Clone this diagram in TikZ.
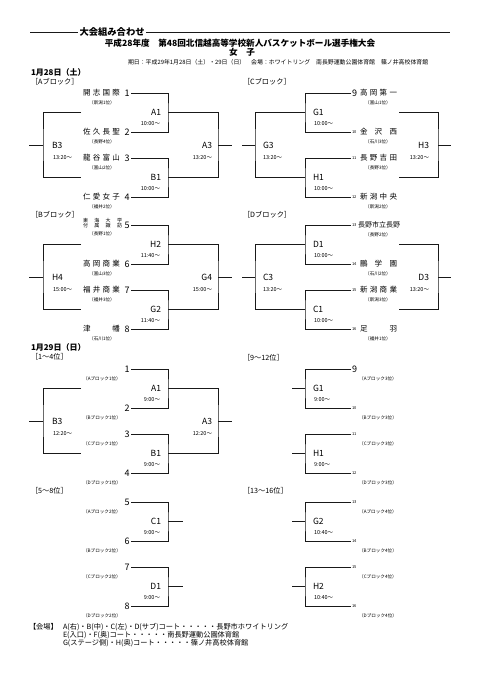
\documentclass[tikz,border=0pt]{standalone}
\usepackage{fontspec}
\setmainfont{Noto Sans CJK JP}
\usetikzlibrary{positioning}
\newcommand{\spread}[2][37pt]{\makebox[#1][s]{#2}}

\begin{document}
\begin{tikzpicture}[
  x=1pt, y=-1pt,
  wire/.style={draw=black!90, line width=0.8pt},
  lbl/.style={inner sep=0pt, outer sep=0pt},
  maintitle/.style={lbl, font=\fontsize{8.6}{9}\selectfont\bfseries},
  dayhd/.style={lbl, anchor=west, font=\fontsize{8}{9}\selectfont\bfseries},
  blockhd/.style={lbl, anchor=west, font=\fontsize{7.2}{8}\selectfont},
  school/.style={lbl, font=\fontsize{7.5}{8}\selectfont},
  seed/.style={lbl, font=\fontsize{9}{9}\selectfont},
  seedsm/.style={lbl, font=\fontsize{4}{4}\selectfont},
  pref/.style={lbl, font=\fontsize{4.6}{5}\selectfont},
  game/.style={lbl, font=\fontsize{8.5}{9}\selectfont},
  clock/.style={lbl, font=\fontsize{5.5}{6}\selectfont},
  note/.style={lbl, anchor=west, font=\fontsize{7.2}{8}\selectfont}
]
\useasboundingbox (0,0) rectangle (481,680);

% header
\node[lbl, anchor=west, inner xsep=1.5pt, font=\fontsize{9.3}{10}\selectfont\bfseries] (hd) at (78,32) {大会組み合わせ};
\coordinate (hdl) at (30,32);
\coordinate (hdr) at (450,32);
\draw[wire, line width=0.6pt] (hdl) -- (hd.west);
\draw[wire, line width=0.6pt] (hd.east) -- (hdr);
\node[maintitle] (ttl) at (240,43) {平成28年度　第48回北信越高等学校新人バスケットボール選手権大会};
\node[maintitle] (sex) at (242,52) {女　子};
\node[lbl, anchor=west, font=\fontsize{5.9}{6}\selectfont] (info) at (128,62)
  {期日：平成29年1月28日（土）・29日（日）　会場：ホワイトリング　南長野運動公園体育館　篠ノ井高校体育館};

\node[dayhd] (day1) at (31,72) {1月28日（土）};
\node[dayhd] (day2) at (31,347) {1月29日（日）};
\node[blockhd] (hA) at (31,82) {［Aブロック］};
\node[blockhd] (hC) at (243,82) {［Cブロック］};
\node[blockhd] (hB) at (31,215) {［Bブロック］};
\node[blockhd] (hD) at (243,215) {［Dブロック］};
\node[blockhd] (hE) at (31,357) {［1～4位］};
\node[blockhd] (hG) at (243,358) {［9～12位］};
\node[blockhd] (hF) at (31,491) {［5～8位］};
\node[blockhd] (hH) at (243,491) {［13～16位］};

% brackets, teams on the left
\foreach \p/\b in {A/93,B/225,E/369,F/502}{
  \foreach \i/\o in {1/0,2/39,3/65,4/104}
    \coordinate (\p\i) at (131,\b+\o);
  \coordinate (\p m1) at (168,\b+19.5);
  \coordinate (\p m2) at (168,\b+84.5);
  \draw[wire] (\p1) -| (\p m1) |- (\p2);
  \draw[wire] (\p3) -| (\p m2) |- (\p4);
}
\foreach \p/\b in {A/93,B/225,E/369}{
  \coordinate (\p rc) at (218,\b+52);
  \coordinate (\p ro) at (232,\b+52);
  \coordinate (\p l1) at (81,\b+19.5);
  \coordinate (\p l2) at (81,\b+84.5);
  \coordinate (\p lc) at (43,\b+52);
  \coordinate (\p lo) at (29,\b+52);
  \draw[wire] (\p m1) -| (\p rc) |- (\p m2);
  \draw[wire] (\p l1) -| (\p lc) |- (\p l2);
  \draw[wire] (\p rc) -- (\p ro);
  \draw[wire] (\p lc) -- (\p lo);
}
\coordinate (Fx1) at (183,521.5);
\coordinate (Fx2) at (183,586.5);
\draw[wire] (Fm1) -- (Fx1);
\draw[wire] (Fm2) -- (Fx2);

% brackets, teams on the right
\foreach \p/\b in {C/93,D/225,G/369,H/502}{
  \foreach \i/\o in {1/0,2/39,3/65,4/104}
    \coordinate (\p\i) at (351,\b+\o);
  \coordinate (\p m1) at (305,\b+19.5);
  \coordinate (\p m2) at (305,\b+84.5);
  \draw[wire] (\p1) -| (\p m1) |- (\p2);
  \draw[wire] (\p3) -| (\p m2) |- (\p4);
}
\foreach \p/\b in {C/93,D/225}{
  \coordinate (\p lc) at (255,\b+52);
  \coordinate (\p lo) at (242,\b+52);
  \coordinate (\p r1) at (399,\b+19.5);
  \coordinate (\p r2) at (399,\b+84.5);
  \coordinate (\p rc) at (438,\b+52);
  \coordinate (\p ro) at (451,\b+52);
  \draw[wire] (\p m1) -| (\p lc) |- (\p m2);
  \draw[wire] (\p r1) -| (\p rc) |- (\p r2);
  \draw[wire] (\p lc) -- (\p lo);
  \draw[wire] (\p rc) -- (\p ro);
}
\foreach \p/\b in {G/369,H/502}{
  \coordinate (\p x1) at (292,\b+19.5);
  \coordinate (\p x2) at (292,\b+84.5);
  \draw[wire] (\p m1) -- (\p x1);
  \draw[wire] (\p m2) -- (\p x2);
}

% games and times
\foreach \p/\b/\u/\v/\tm in {A/93/A1/B1/10:00～,B/225/H2/G2/11:40～,E/369/A1/B1/9:00～,F/502/C1/D1/9:00～}{
  \node[game, anchor=east] (g\p1) at (161,\b+19.5) {\u};
  \node[clock, anchor=east] (c\p1) at (160,\b+31) {\tm};
  \node[game, anchor=east] (g\p2) at (161,\b+84.5) {\v};
  \node[clock, anchor=east] (c\p2) at (160,\b+96) {\tm};
}
\foreach \p/\b/\u/\v/\tm in {A/93/A3/B3/13:20～,B/225/G4/H4/15:00～,E/369/A3/B3/12:20～}{
  \node[game, anchor=east] (g\p r) at (212,\b+52) {\u};
  \node[clock, anchor=east] (c\p r) at (212,\b+65) {\tm};
  \node[game, anchor=west] (g\p l) at (52,\b+52) {\v};
  \node[clock, anchor=west] (c\p l) at (53,\b+65) {\tm};
}
\foreach \p/\b/\u/\v/\tm in {C/93/G1/H1/10:00～,D/225/D1/C1/10:00～,G/369/G1/H1/9:00～,H/502/G2/H2/10:40～}{
  \node[game, anchor=west] (g\p1) at (313,\b+19.5) {\u};
  \node[clock, anchor=west] (c\p1) at (314,\b+31) {\tm};
  \node[game, anchor=west] (g\p2) at (313,\b+84.5) {\v};
  \node[clock, anchor=west] (c\p2) at (314,\b+96) {\tm};
}
\foreach \p/\b/\u/\v in {C/93/G3/H3,D/225/C3/D3}{
  \node[game, anchor=west] (g\p l) at (263,\b+52) {\u};
  \node[clock, anchor=west] (c\p l) at (263,\b+65) {13:20～};
  \node[game, anchor=east] (g\p r) at (429,\b+52) {\v};
  \node[clock, anchor=east] (c\p r) at (429,\b+65) {13:20～};
}

% teams, first day
\foreach \y/\n/\sc/\pf in {93/1/開\hfil 志\hfil 国\hfil 際/新潟1位,132/2/佐\hfil 久\hfil 長\hfil 聖/長野4位,
    158/3/龍\hfil 谷\hfil 富\hfil 山/富山2位,197/4/仁\hfil 愛\hfil 女\hfil 子/福井2位,
    264/6/高\hfil 岡\hfil 商\hfil 業/富山3位,290/7/福\hfil 井\hfil 商\hfil 業/福井3位,329/8/津\hfil 幡/石川1位}{
  \node[seed, anchor=east] (n\n) at (129.5,\y) {\n};
  \node[school, anchor=east] (s\n) at (120,\y) {\spread{\sc}};
  \node[pref] (p\n) at (102,\y+10) {（\pf{}）};
}
\node[seed, anchor=east] (n5) at (129.5,225) {5};
\node[lbl, anchor=east, font=\fontsize{5}{5}\selectfont] (s5a) at (122,220.5) {\spread[39pt]{東\hfil 海\hfil 大\hfil 学}};
\node[lbl, anchor=east, font=\fontsize{5}{5}\selectfont] (s5b) at (122,226) {\spread[39pt]{付\hfil 属\hfil 諏\hfil 訪}};
\node[pref] (p5) at (102,234) {（長野1位）};

\foreach \y/\n/\st/\sc/\pf in {93/9/seed/高\hfil 岡\hfil 第\hfil 一/富山1位,132/10/seedsm/金\hfil 沢\hfil 西/石川3位,
    158/11/seedsm/長\hfil 野\hfil 吉\hfil 田/長野3位,197/12/seedsm/新\hfil 潟\hfil 中\hfil 央/新潟2位,
    264/14/seedsm/鵬\hfil 学\hfil 園/石川2位,290/15/seedsm/新\hfil 潟\hfil 商\hfil 業/新潟3位,329/16/seedsm/足\hfil 羽/福井1位}{
  \node[\st, anchor=west] (n\n) at (352,\y) {\n};
  \node[school, anchor=west] (s\n) at (360,\y) {\spread{\sc}};
  \node[pref] (p\n) at (378,\y+10) {（\pf{}）};
}
\node[seedsm, anchor=west] (n13) at (352,225) {13};
\node[lbl, anchor=west, font=\fontsize{7}{7}\selectfont] (s13) at (358,225) {長野市立長野};
\node[pref] (p13) at (378,235) {（長野2位）};

% teams, second day
\foreach \y/\n/\pb/\pr in {369/1/A/1,408/2/B/1,434/3/C/1,473/4/D/1,502/5/A/2,541/6/B/2,567/7/C/2,606/8/D/2}{
  \node[seed, anchor=east] (q\n) at (129.5,\y) {\n};
  \node[pref] (r\n) at (102,\y+9.5) {（\pb{}ブロック\pr{}位）};
}
\foreach \y/\n/\st/\pb/\pr in {369/9/seed/A/3,408/10/seedsm/B/3,434/11/seedsm/C/3,473/12/seedsm/D/3,
    502/13/seedsm/A/4,541/14/seedsm/B/4,567/15/seedsm/C/4,606/16/seedsm/D/4}{
  \node[\st, anchor=west] (q\n) at (352,\y) {\n};
  \node[pref] (r\n) at (378,\y+10) {（\pb{}ブロック\pr{}位）};
}

% venues
\node[note] (vh) at (29,627) {【会場】};
\node[note] (v1) at (63,627) {A(右)・B(中)・C(左)・D(サブ)コート・・・・・長野市ホワイトリング};
\node[note] (v2) at (63,635) {E(入口)・F(奥)コート・・・・・南長野運動公園体育館};
\node[note] (v3) at (63,643) {G(ステージ側)・H(奥)コート・・・・・篠ノ井高校体育館};
\end{tikzpicture}
\end{document}
